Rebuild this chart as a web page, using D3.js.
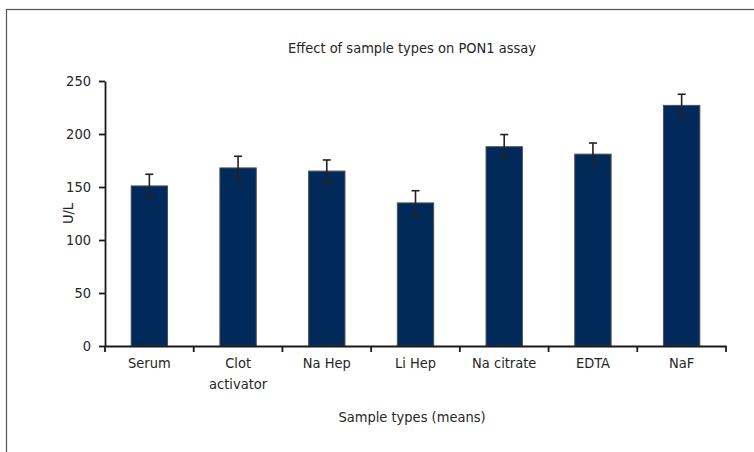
<!DOCTYPE html>
<html>
<head>
<meta charset="utf-8">
<script src="https://cdn.jsdelivr.net/npm/d3@7"></script>
<style>
  html, body { margin: 0; padding: 0; background: #fff; }
  svg { display: block; }
  text { font-family: "DejaVu Sans Condensed", "Liberation Sans Narrow", sans-serif; fill: #262626; }
</style>
</head>
<body>
<svg id="chart" width="754" height="452"></svg>
<script>
// Sample types, mean PON1 activity (U/L) and error-bar half-widths
const categories = ["Serum", "Clot activator", "Na Hep", "Li Hep", "Na citrate", "EDTA", "NaF"];
const meanValues = [151, 168, 165, 135, 188, 181, 227];
const errorValues = [11, 11, 10.5, 11.5, 11.5, 10.5, 10.5];
const tickLabels = [["Serum"], ["Clot", "activator"], ["Na Hep"], ["Li Hep"], ["Na citrate"], ["EDTA"], ["NaF"]];
const yTicks = [0, 50, 100, 150, 200, 250];

const titleText = "Effect of sample types on PON1 assay";
const xTitle = "Sample types (means)";
const yTitle = "U/L";

const fontSize = 14.5;
const svg = d3.select("#chart");
const plotLeft = 105, plotRight = 726, plotTop = 81, plotBottom = 346;

// outer frame (open on the right and bottom)
svg.append("rect")
  .attr("x", 6.5).attr("y", 9.5)
  .attr("width", 900).attr("height", 900)
  .attr("fill", "none").attr("stroke", "#555").attr("stroke-width", 1.2);

const x = d3.scaleBand().domain(categories).range([plotLeft, plotRight]).paddingInner(0).paddingOuter(0);
const y = d3.scaleLinear().domain([0, 250]).range([plotBottom, plotTop]);
const barW = x.bandwidth() * 0.41;

// bars
svg.append("g").selectAll("rect")
  .data(categories)
  .join("rect")
  .attr("x", (d) => x(d) + (x.bandwidth() - barW) / 2)
  .attr("y", (d, i) => y(meanValues[i]))
  .attr("width", barW)
  .attr("height", (d, i) => y(0) - y(meanValues[i]))
  .attr("fill", "#012a5b")
  .attr("stroke", "#505050")
  .attr("stroke-width", 1);

// error bars
const eb = svg.append("g").attr("stroke", "#222").attr("stroke-width", 1.6);
categories.forEach((c, i) => {
  const cx = x(c) + x.bandwidth() / 2;
  const hi = y(meanValues[i] + errorValues[i]);
  const lo = y(meanValues[i] - errorValues[i]);
  eb.append("line").attr("x1", cx).attr("x2", cx).attr("y1", hi).attr("y2", lo);
  eb.append("line").attr("x1", cx - 4).attr("x2", cx + 4).attr("y1", hi).attr("y2", hi);
  eb.append("line").attr("x1", cx - 4).attr("x2", cx + 4).attr("y1", lo).attr("y2", lo);
});

// y axis
const yAxis = svg.append("g")
  .attr("transform", `translate(${plotLeft},0)`)
  .call(d3.axisLeft(y).tickValues(yTicks).tickSize(6).tickPadding(8).tickSizeOuter(0));
yAxis.selectAll("path, line").attr("stroke", "#1a1a1a").attr("stroke-width", 1.8);
yAxis.selectAll("text").attr("font-size", fontSize).attr("font-family", null).attr("fill", null);

// x axis: labels centred on bars, ticks at band boundaries
const xAxis = svg.append("g")
  .attr("transform", `translate(0,${plotBottom})`)
  .call(d3.axisBottom(x).tickSize(0).tickPadding(0).tickSizeOuter(0));
xAxis.select(".domain").attr("stroke", "#1a1a1a").attr("stroke-width", 1.8);
xAxis.selectAll(".tick text").each(function (d, i) {
  const t = d3.select(this).text(null).attr("y", 0).attr("dy", null)
    .attr("font-size", fontSize).attr("font-family", null).attr("fill", null);
  tickLabels[i].forEach((line, k) => {
    t.append("tspan").attr("x", 0).attr("y", 22 + k * 21).text(line);
  });
});
const bounds = categories.map((c) => x(c)).concat([x.range()[1]]);
xAxis.selectAll(".bound")
  .data(bounds)
  .join("line")
  .attr("class", "bound")
  .attr("x1", (d) => d).attr("x2", (d) => d)
  .attr("y1", 0).attr("y2", 6)
  .attr("stroke", "#1a1a1a").attr("stroke-width", 1.8);

// titles
svg.append("text")
  .attr("x", 412).attr("y", 53)
  .attr("text-anchor", "middle").attr("font-size", fontSize)
  .text(titleText);

svg.append("text")
  .attr("x", 412).attr("y", 422)
  .attr("text-anchor", "middle").attr("font-size", fontSize)
  .text(xTitle);

svg.append("text")
  .attr("transform", `translate(73,${(plotTop + plotBottom) / 2}) rotate(-90)`)
  .attr("text-anchor", "middle").attr("font-size", fontSize)
  .text(yTitle);
</script>
</body>
</html>
